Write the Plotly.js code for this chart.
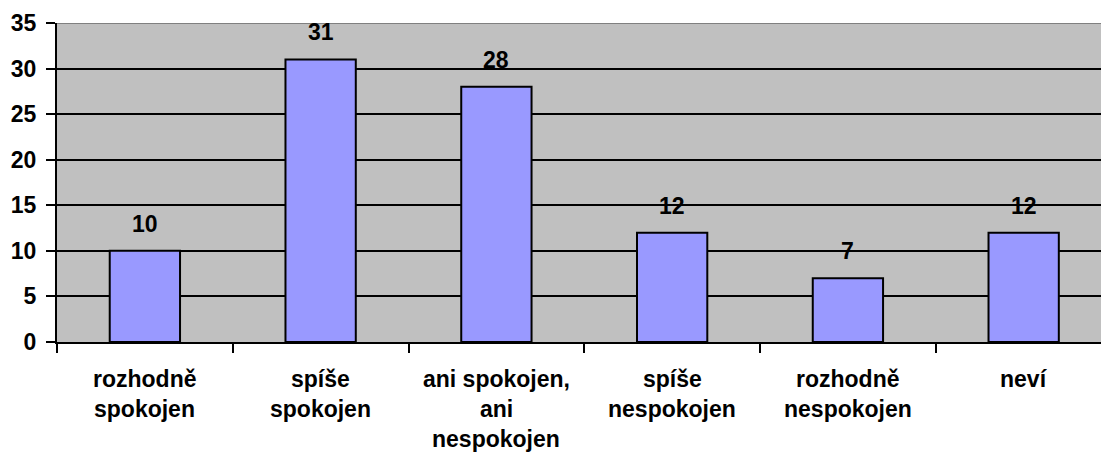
<!DOCTYPE html>
<html>
<head>
<meta charset="utf-8">
<script src="https://cdn.plot.ly/plotly-3.0.1.min.js"></script>
<style>html,body{margin:0;padding:0;background:#fff;overflow:hidden}</style>
</head>
<body>
<div id="chart" style="width:1101px;height:452px"></div>
<script>
const categories = ["rozhodně spokojen", "spíše spokojen", "ani spokojen, ani nespokojen", "spíše nespokojen", "rozhodně nespokojen", "neví"];
const values = [10, 31, 28, 12, 7, 12];
const tickLabelLines = [
  ["rozhodně", "spokojen"],
  ["spíše", "spokojen"],
  ["ani spokojen,", "ani", "nespokojen"],
  ["spíše", "nespokojen"],
  ["rozhodně", "nespokojen"],
  ["neví"]
];
const yTicks = [0, 5, 10, 15, 20, 25, 30, 35];

const FONT = "Liberation Sans, Arial, sans-serif";
const annotations = [];
values.forEach((v, i) => {
  annotations.push({
    x: categories[i], y: v, xref: "x", yref: "y",
    text: String(v), showarrow: false,
    yanchor: "middle", yshift: 27,
    font: {family: FONT, size: 23, color: "#000", weight: 700}
  });
});
tickLabelLines.forEach((lines, i) => {
  lines.forEach((ln, j) => {
    annotations.push({
      x: categories[i], y: 0, xref: "x", yref: "paper",
      text: ln, showarrow: false,
      yanchor: "middle", yshift: -37 - 30 * j,
      font: {family: FONT, size: 23, color: "#000", weight: 700}
    });
  });
});

const data = [{
  type: "bar",
  x: categories,
  y: values,
  marker: {color: "#9999FF", line: {color: "#000", width: 2}},
  hoverinfo: "none"
}];

const layout = {
  width: 1101, height: 452,
  margin: {l: 57, r: 0, t: 23, b: 110, pad: 0},
  paper_bgcolor: "#fff",
  plot_bgcolor: "#C0C0C0",
  bargap: 0.6,
  showlegend: false,
  xaxis: {
    type: "category",
    range: [-0.5, 5.44],
    showticklabels: false,
    tickson: "boundaries",
    ticks: "outside", ticklen: 9, tickwidth: 2, tickcolor: "#000",
    showline: true, linecolor: "#000", linewidth: 2,
    showgrid: false, zeroline: false, fixedrange: true
  },
  yaxis: {
    range: [0, 35],
    tickvals: yTicks,
    ticktext: yTicks.map(String),
    ticks: "outside", ticklen: 9, tickwidth: 2, tickcolor: "#000",
    ticklabelstandoff: 5,
    showline: true, linecolor: "#000", linewidth: 2,
    showgrid: true, gridcolor: "#000", gridwidth: 2,
    zeroline: false, fixedrange: true,
    tickfont: {family: FONT, size: 23, color: "#000", weight: 700}
  },
  shapes: [{
    type: "line", xref: "paper", yref: "y",
    x0: 0, x1: 1, y0: 35, y1: 35,
    line: {color: "#808080", width: 2}, layer: "above"
  }],
  annotations: annotations
};

Plotly.newPlot("chart", data, layout, {displayModeBar: false, staticPlot: true});
</script>
</body>
</html>
